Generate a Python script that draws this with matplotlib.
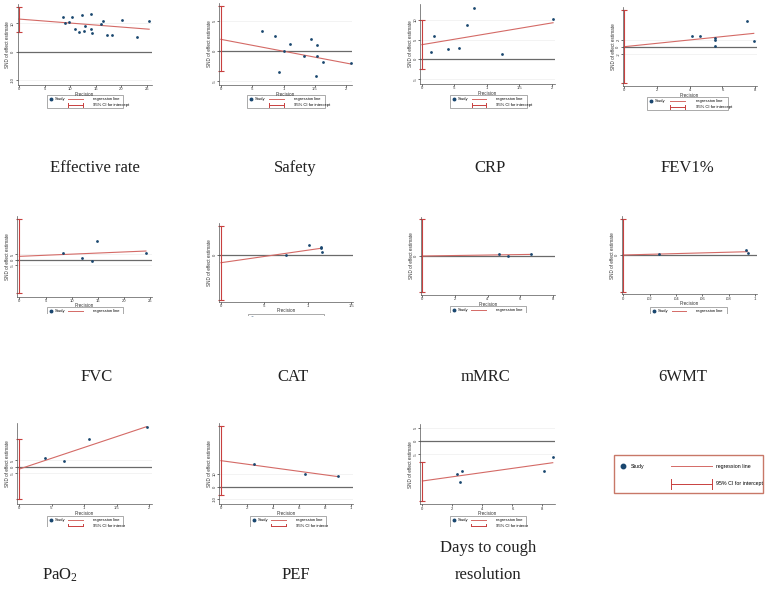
import matplotlib
matplotlib.use("Agg")
import matplotlib.pyplot as plt
from matplotlib.transforms import Bbox

plt.rcParams['font.family'] = ['Liberation Sans', 'DejaVu Sans']
plt.rcParams['mathtext.fontset'] = 'custom'
plt.rcParams['mathtext.rm'] = 'Liberation Serif'
plt.rcParams['mathtext.default'] = 'rm'

W, H = 767, 595
DPI = 100

NAVY = '#1a476f'
FIT_RED = '#d46a66'
CI_RED = '#c8403f'
ZERO_GREY = '#6a6a6a'

# Egger plots: precision (1/SE) on x, standard normal deviate on y
eff_x = [8.7, 9.0, 9.8, 10.4, 11.0, 11.8, 12.4, 12.8, 12.9, 14.1, 14.1, 14.3, 16.1, 16.5, 17.3, 18.2, 20.2, 23.1, 25.5]
eff_y = [12.1, 10.0, 10.4, 12.1, 8.1, 7.1, 13.1, 7.4, 9.2, 13.4, 8.0, 6.5, 9.9, 10.8, 6.0, 6.0, 11.2, 5.2, 10.9]
eff_fit = (11.5, -0.14)
eff_ci = (7.1, 15.9)

saf_x = [0.66, 0.86, 0.92, 1.01, 1.10, 1.32, 1.43, 1.54, 1.54, 1.52, 1.62, 2.07]
saf_y = [3.3, 2.4, -3.6, -0.06, 1.2, -0.9, 1.9, 0.9, -0.9, -4.2, -1.9, -2.1]
saf_fit = (1.9, -1.98)
saf_ci = (-3.3, 7.4)

crp_x = [0.14, 0.19, 0.40, 0.57, 0.69, 0.80, 1.24, 2.02]
crp_y = [1.86, 5.93, 2.54, 2.80, 8.81, 13.2, 1.27, 10.25]
crp_fit = (3.73, 2.77)
crp_ci = (-2.54, 10.0)

fev_x = [4.14, 4.65, 5.55, 5.55, 5.57, 7.53, 7.92]
fev_y = [3.0, 3.0, 2.5, 2.0, 0.2, 7.2, 1.7]
fev_fit = (0.0, 0.47)
fev_ci = (-10.2, 10.2)

fvc_x = [8.4, 11.9, 13.9, 14.9, 24.2]
fvc_y = [6.1, 1.5, -0.6, 17.0, 6.4]
fvc_fit = (3.3, 0.2)
fvc_ci = (-29.7, 37.0)

cat_x = [0.75, 1.02, 1.15, 1.15, 1.16]
cat_y = [0.0, 10.0, 8.0, 6.7, 2.7]
cat_fit = (-7.7, 12.5)
cat_ci = (-45.0, 29.0)

mmrc_x = [4.72, 5.28, 6.69]
mmrc_y = [1.3, 0.0, 1.7]
mmrc_fit = (-0.3, 0.24)
mmrc_ci = (-36.7, 36.7)

wmt_x = [0.0268, 0.0932, 0.0944]
wmt_y = [1.0, 4.7, 2.3]
wmt_fit = (0.0, 35.0)
wmt_ci = (-36.7, 36.0)

pao_x = [0.40, 0.69, 1.075, 1.96]
pao_y = [7.1, 4.5, 21.6, 31.1]
pao_fit = (-1.84, 17.06)
pao_ci = (-25.8, 22.1)

pef_x = [0.256, 0.649, 0.897]
pef_y = [17.9, 10.4, 8.5]
pef_fit = (20.8, -14.2)
pef_ci = (-6.7, 48.5)

days_x = [2.31, 2.67, 2.53, 8.09, 8.69]
days_y = [-12.25, -11.25, -15.4, -11.1, -6.0]
days_fit = (-15.0, 0.79)
days_ci = (-22.4, -7.75)

titles = ["Effective rate", "Safety", "CRP", "FEV1%", "FVC", "CAT", "mMRC", "6WMT",
          "PaO$_2$", "PEF", "Days to cough", "resolution"]

# layout: axes box in pixels (left, top, right, bottom), limits, ticks, legend box, clip line
panels = [
    dict(x=eff_x, y=eff_y, fit=eff_fit, ci=eff_ci, box=(17.5, 4, 151.7, 85),
         xlim=(-0.3, 26.0), ylim=(-11.7, 16.8),
         xt=[0, 5, 10, 15, 20, 25], xl=['0', '5', '10', '15', '20', '25'],
         yt=[-10, 0, 10], yl=['-10', '0', '10'], leg=(47, 95, 123, 108), cut=None),
    dict(x=saf_x, y=saf_y, fit=saf_fit, ci=saf_ci, box=(219, 3, 352, 85),
         xlim=(-0.03, 2.09), ylim=(-5.7, 7.95),
         xt=[0, 0.5, 1, 1.5, 2], xl=['0', '.5', '1', '1.5', '2'],
         yt=[-5, 0, 5], yl=['-5', '0', '5'], leg=(247, 95, 325, 108), cut=None),
    dict(x=crp_x, y=crp_y, fit=crp_fit, ci=crp_ci, box=(420, 4, 555, 84),
         xlim=(-0.03, 2.05), ylim=(-6.3, 14.1),
         xt=[0, 0.5, 1, 1.5, 2], xl=['0', '.5', '1', '1.5', '2'],
         yt=[-5, 0, 5, 10], yl=['-5', '0', '5', '10'], leg=(450, 95, 527, 108), cut=None),
    dict(x=fev_x, y=fev_y, fit=fev_fit, ci=fev_ci, box=(622.7, 7, 756.7, 86),
         xlim=(-0.1, 8.1), ylim=(-11.0, 11.1),
         xt=[0, 2, 4, 6, 8], xl=['0', '2', '4', '6', '8'],
         yt=[-2, 0, 2], yl=['-2', '0', '2'], leg=(647, 97, 728, 110), cut=None),
    dict(x=fvc_x, y=fvc_y, fit=fvc_fit, ci=fvc_ci, box=(17.3, 216, 151.7, 296.7),
         xlim=(-0.4, 25.3), ylim=(-33.4, 40.0),
         xt=[0, 5, 10, 15, 20, 25], xl=['0', '5', '10', '15', '20', '25'],
         yt=[-5, 0, 5], yl=['-5', '0', '5'], leg=(47, 306.5, 123, 320), cut=314),
    dict(x=cat_x, y=cat_y, fit=cat_fit, ci=cat_ci, box=(219, 223, 353.3, 301.7),
         xlim=(-0.023, 1.526), ylim=(-46.7, 32.0),
         xt=[0, 0.5, 1, 1.5], xl=['0', '.5', '1', '1.5'],
         yt=[0], yl=['0'], leg=(248, 314, 324, 327), cut=316),
    dict(x=mmrc_x, y=mmrc_y, fit=mmrc_fit, ci=mmrc_ci, box=(420.7, 216.7, 555, 295),
         xlim=(-0.1, 8.14), ylim=(-39.3, 39.0),
         xt=[0, 2, 4, 6, 8], xl=['0', '2', '4', '6', '8'],
         yt=[0], yl=['0'], leg=(450, 306, 526, 319), cut=313),
    dict(x=wmt_x, y=wmt_y, fit=wmt_fit, ci=wmt_ci, box=(621.7, 216, 756.7, 294.3),
         xlim=(-0.00125, 0.1013), ylim=(-39.3, 39.0),
         xt=[0, 0.02, 0.04, 0.06, 0.08, 0.1], xl=['0', '.02', '.04', '.06', '.08', '.1'],
         yt=[0], yl=['0'], leg=(650, 306.5, 727, 320), cut=314),
    dict(x=pao_x, y=pao_y, fit=pao_fit, ci=pao_ci, box=(17.3, 423, 151.7, 504),
         xlim=(-0.03, 2.04), ylim=(-29.4, 34.5),
         xt=[0, 0.5, 1, 1.5, 2], xl=['0', '.5', '1', '1.5', '2'],
         yt=[-5, 0, 5], yl=['-5', '0', '5'], leg=(47, 516, 123, 529), cut=527),
    dict(x=pef_x, y=pef_y, fit=pef_fit, ci=pef_ci, box=(219, 423.3, 353.3, 504),
         xlim=(-0.015, 1.018), ylim=(-13.9, 50.7),
         xt=[0, 0.2, 0.4, 0.6, 0.8, 1], xl=['0', '.2', '.4', '.6', '.8', '1'],
         yt=[-10, 0, 10], yl=['-10', '0', '10'], leg=(250, 516, 326, 529), cut=527),
    dict(x=days_x, y=days_y, fit=days_fit, ci=days_ci, box=(420, 424, 555, 504.3),
         xlim=(-0.16, 8.84), ylim=(-23.75, 6.4),
         xt=[0, 2, 4, 6, 8], xl=['0', '2', '4', '6', '8'],
         yt=[-5, 0, 5], yl=['-5', '0', '5'], leg=(450, 516, 526, 529), cut=527),
]

title_pos = [(95, 168), (295, 168), (490, 168), (687, 168),
             (97, 377), (293, 377), (485, 377), (683, 377),
             (60, 575), (296, 575), (488, 548), (488, 575)]

fig = plt.figure(figsize=(W / DPI, H / DPI), dpi=DPI)
fig.patch.set_facecolor('white')

# overlay in pixel coordinates for legends
ov = fig.add_axes([0, 0, 1, 1])
ov.set_xlim(0, W)
ov.set_ylim(H, 0)
ov.axis('off')


def px_axes(l, t, r, b):
    return fig.add_axes([l / W, 1 - b / H, (r - l) / W, (b - t) / H])


def clip(artist, box):
    if box is None:
        artist.set_clip_on(False)
    else:
        artist.set_clip_on(True)
        artist.set_clip_box(box)


def draw_legend(l, t, r, b, cut, fs, edge, lw_box, row_gap, fr, ms):
    w = r - l
    cb = None
    if cut is not None:
        cb = Bbox.from_extents(l - 2, H - cut, r + 2, H - t + 2)
    rect = plt.Rectangle((l, t), w, b - t, fill=False, ec=edge, lw=lw_box)
    ov.add_patch(rect)
    clip(rect, cb)
    y1 = t + (b - t) * 0.3
    y2 = y1 + row_gap
    xm, xs, x0, x1, xt = [l + f * w for f in fr]
    arts = []
    arts += ov.plot([xm], [y1], 'o', color=NAVY, ms=ms)
    arts.append(ov.text(xs, y1, 'Study', fontsize=fs, va='center', ha='left'))
    arts += ov.plot([x0, x1], [y1, y1], color=FIT_RED, lw=0.7)
    arts.append(ov.text(xt, y1, 'regression line', fontsize=fs, va='center', ha='left'))
    arts += ov.plot([x0, x1], [y2, y2], color=CI_RED, lw=0.7)
    cap = row_gap * 0.3
    for cx in (x0, x1):
        arts += ov.plot([cx, cx], [y2 - cap, y2 + cap], color=CI_RED, lw=0.7)
    arts.append(ov.text(xt, y2, '95% CI for intercept', fontsize=fs, va='center', ha='left'))
    for a in arts:
        clip(a, cb)


for p in panels:
    ax = px_axes(*p['box'])
    ax.patch.set_alpha(0)
    ax.set_xlim(p['xlim'])
    ax.set_ylim(p['ylim'])
    for s in ['top', 'right']:
        ax.spines[s].set_visible(False)
    for s in ['left', 'bottom']:
        ax.spines[s].set_linewidth(0.5)
        ax.spines[s].set_color('#555555')
    for t in p['yt']:
        if t != 0:
            ax.axhline(t, color='#eeeeee', lw=0.5, zorder=0)
    ax.axhline(0, color=ZERO_GREY, lw=0.9, zorder=1)
    a, b = p['fit']
    xe = max(p['x'])
    ax.plot([0, xe], [a, a + b * xe], color=FIT_RED, lw=0.8, zorder=2)
    lo, hi = p['ci']
    ax.plot([0, 0], [lo, hi], color=CI_RED, lw=0.8, zorder=2, clip_on=False)
    ax.plot([0, 0], [lo, hi], ls='none', marker='_', ms=4, mew=0.8, color=CI_RED, clip_on=False)
    ax.scatter(p['x'], p['y'], s=4, color=NAVY, zorder=3, clip_on=False, linewidths=0)
    ax.set_xticks(p['xt'])
    ax.set_xticklabels(p['xl'])
    ax.set_yticks(p['yt'])
    ax.set_yticklabels(p['yl'], rotation=90, va='center')
    ax.tick_params(length=1.3, width=0.5, labelsize=3.0, pad=0.4, colors='#333333')
    ax.set_xlabel('Precision', fontsize=3.3, labelpad=0.2, color='#333333')
    ax.set_ylabel('SND of effect estimate', fontsize=3.3, labelpad=0.5, color='#333333')
    draw_legend(*p['leg'], p['cut'], fs=3.0, edge='#888888', lw_box=0.5, row_gap=6,
                fr=(0.05, 0.10, 0.28, 0.47, 0.60), ms=1.8)

# shared legend at bottom right
draw_legend(614, 455, 763, 493, None, fs=3.8, edge='#c87868', lw_box=1.0, row_gap=17.5,
            fr=(0.06, 0.11, 0.38, 0.66, 0.685), ms=3.2)

for txt, (cx, cy) in zip(titles, title_pos):
    fig.text(cx / W, 1 - cy / H, txt, ha='center', va='center',
             family='Liberation Serif', fontsize=12, color='#222222')

fig.savefig('out.png', dpi=DPI)
